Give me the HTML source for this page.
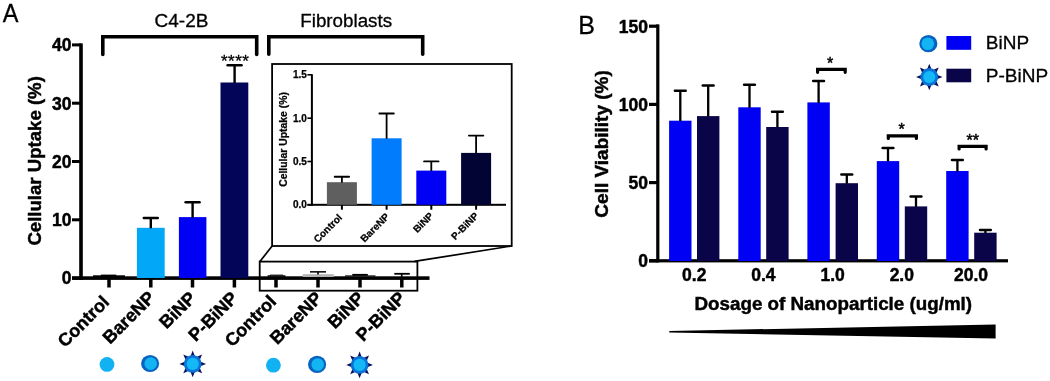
<!DOCTYPE html>
<html><head><meta charset="utf-8"><style>
html,body{margin:0;padding:0;background:#fff;}
body{width:1050px;height:381px;overflow:hidden;}
svg{display:block;will-change:transform;font-family:"Liberation Sans",sans-serif;}
</style></head><body>
<svg width="1050" height="381" viewBox="0 0 1050 381">
<rect width="1050" height="381" fill="#fff"/>
<text transform="translate(2.75,21.6) scale(0.94,1.01)" font-size="25" fill="#000" stroke="#000" stroke-width="0.3">A</text>
<path d="M102.8,54.5 V36.8 H256.7 V54.5" stroke="#000" stroke-width="3.6" fill="none" stroke-linecap="round" stroke-linejoin="miter"/>
<path d="M268.8,54.2 V36.8 H422.7 V54.2" stroke="#000" stroke-width="3.6" fill="none" stroke-linecap="round" stroke-linejoin="miter"/>
<text x="181.50" y="27.40" font-size="19" font-weight="normal" text-anchor="middle" fill="#000" stroke="#000" stroke-width="0.3">C4-2B</text>
<text x="346.20" y="26.90" font-size="18.8" font-weight="normal" text-anchor="middle" fill="#000" stroke="#000" stroke-width="0.3">Fibroblasts</text>
<rect x="79.20" y="43.40" width="3.60" height="236.50" fill="#000"/>
<rect x="72.00" y="43.40" width="9.00" height="3.00" fill="#000"/>
<text x="71.50" y="51.20" font-size="17.5" font-weight="bold" text-anchor="end" fill="#000" stroke="#000" stroke-width="0.45">40</text>
<rect x="72.00" y="101.70" width="9.00" height="3.00" fill="#000"/>
<text x="71.50" y="109.50" font-size="17.5" font-weight="bold" text-anchor="end" fill="#000" stroke="#000" stroke-width="0.45">30</text>
<rect x="72.00" y="160.00" width="9.00" height="3.00" fill="#000"/>
<text x="71.50" y="167.80" font-size="17.5" font-weight="bold" text-anchor="end" fill="#000" stroke="#000" stroke-width="0.45">20</text>
<rect x="72.00" y="218.30" width="9.00" height="3.00" fill="#000"/>
<text x="71.50" y="226.10" font-size="17.5" font-weight="bold" text-anchor="end" fill="#000" stroke="#000" stroke-width="0.45">10</text>
<rect x="72.00" y="276.60" width="9.00" height="3.00" fill="#000"/>
<text x="71.50" y="284.40" font-size="17.5" font-weight="bold" text-anchor="end" fill="#000" stroke="#000" stroke-width="0.45">0</text>
<rect x="72.00" y="276.30" width="357.50" height="3.60" fill="#000"/>
<rect x="136.90" y="227.80" width="27.80" height="50.20" fill="#02a8f7"/>
<rect x="178.90" y="217.10" width="27.50" height="60.90" fill="#0000f5"/>
<rect x="220.50" y="82.50" width="27.80" height="195.50" fill="#020558"/>
<rect x="93.00" y="275.30" width="32.00" height="2.70" fill="#000"/>
<rect x="149.60" y="218.00" width="2.40" height="10.30" fill="#000"/>
<path d="M143.80,218.00 H157.80" stroke="#000" stroke-width="2.4" fill="none" stroke-linecap="round" stroke-linejoin="miter"/>
<rect x="191.40" y="202.30" width="2.40" height="15.30" fill="#000"/>
<path d="M185.60,202.30 H199.60" stroke="#000" stroke-width="2.4" fill="none" stroke-linecap="round" stroke-linejoin="miter"/>
<rect x="233.40" y="65.20" width="2.40" height="17.80" fill="#000"/>
<path d="M227.60,65.20 H241.60" stroke="#000" stroke-width="2.4" fill="none" stroke-linecap="round" stroke-linejoin="miter"/>
<rect x="100.90" y="274.60" width="15.40" height="1.90" fill="#000"/>
<text x="235.20" y="66.80" font-size="17" font-weight="normal" text-anchor="middle" fill="#000" stroke="#000" stroke-width="0.3" letter-spacing="0.5">****</text>
<rect x="107.25" y="278.00" width="3.50" height="9.50" fill="#000"/>
<rect x="149.05" y="278.00" width="3.50" height="9.50" fill="#000"/>
<rect x="190.75" y="278.00" width="3.50" height="9.50" fill="#000"/>
<rect x="232.65" y="278.00" width="3.50" height="9.50" fill="#000"/>
<rect x="274.25" y="278.00" width="3.50" height="9.50" fill="#000"/>
<rect x="316.25" y="278.00" width="3.50" height="9.50" fill="#000"/>
<rect x="358.25" y="278.00" width="3.50" height="9.50" fill="#000"/>
<rect x="400.05" y="278.00" width="3.50" height="9.50" fill="#000"/>
<text transform="translate(41.40,160.90) rotate(-90)" font-size="18.6" font-weight="bold" text-anchor="middle" fill="#000" stroke="#000" stroke-width="0.45">Cellular Uptake (%)</text>
<text transform="translate(110.30,303.10) rotate(-45)" font-size="18" font-weight="bold" text-anchor="end" fill="#000" stroke="#000" stroke-width="0.45">Control</text>
<text transform="translate(156.00,298.80) rotate(-45)" font-size="18" font-weight="bold" text-anchor="end" fill="#000" stroke="#000" stroke-width="0.45">BareNP</text>
<text transform="translate(197.00,299.20) rotate(-45)" font-size="18" font-weight="bold" text-anchor="end" fill="#000" stroke="#000" stroke-width="0.45">BiNP</text>
<text transform="translate(238.80,299.20) rotate(-45)" font-size="18" font-weight="bold" text-anchor="end" fill="#000" stroke="#000" stroke-width="0.45">P-BiNP</text>
<text transform="translate(277.40,302.60) rotate(-45)" font-size="18" font-weight="bold" text-anchor="end" fill="#000" stroke="#000" stroke-width="0.45">Control</text>
<text transform="translate(323.20,299.30) rotate(-45)" font-size="18" font-weight="bold" text-anchor="end" fill="#000" stroke="#000" stroke-width="0.45">BareNP</text>
<text transform="translate(365.30,299.20) rotate(-45)" font-size="18" font-weight="bold" text-anchor="end" fill="#000" stroke="#000" stroke-width="0.45">BiNP</text>
<text transform="translate(406.50,299.20) rotate(-45)" font-size="18" font-weight="bold" text-anchor="end" fill="#000" stroke="#000" stroke-width="0.45">P-BiNP</text>
<rect x="267.60" y="275.20" width="17.90" height="1.80" fill="#111"/>
<rect x="270.00" y="274.60" width="13.00" height="1.00" fill="#111"/>
<rect x="302.80" y="274.20" width="31.00" height="2.80" fill="#b4b4b4"/>
<rect x="310.00" y="271.10" width="16.00" height="1.50" fill="#000"/>
<rect x="317.20" y="272.00" width="1.60" height="2.50" fill="#000"/>
<rect x="345.00" y="275.30" width="30.40" height="1.70" fill="#222"/>
<rect x="352.30" y="273.90" width="15.50" height="1.90" fill="#000"/>
<rect x="394.30" y="272.90" width="15.50" height="1.80" fill="#000"/>
<rect x="400.90" y="273.50" width="1.60" height="3.50" fill="#000"/>
<rect x="259.7" y="261.6" width="157.7" height="29.1" fill="none" stroke="#000" stroke-width="1.8"/>
<path d="M272.1,246 L259.9,261.6" stroke="#000" stroke-width="1.7" fill="none" stroke-linecap="butt" stroke-linejoin="miter"/>
<path d="M511.6,246 L414.5,261.4" stroke="#000" stroke-width="1.7" fill="none" stroke-linecap="butt" stroke-linejoin="miter"/>
<rect x="272.1" y="64" width="239.6" height="182" fill="#fff" stroke="#000" stroke-width="1.8"/>
<rect x="310.90" y="74.20" width="2.00" height="131.60" fill="#000"/>
<rect x="307.40" y="74.00" width="4.60" height="1.60" fill="#000"/>
<text x="306.80" y="78.30" font-size="10" font-weight="bold" text-anchor="end" fill="#000" stroke="#000" stroke-width="0.25">1.5</text>
<rect x="307.40" y="117.40" width="4.60" height="1.60" fill="#000"/>
<text x="306.80" y="121.70" font-size="10" font-weight="bold" text-anchor="end" fill="#000" stroke="#000" stroke-width="0.25">1.0</text>
<rect x="307.40" y="160.70" width="4.60" height="1.60" fill="#000"/>
<text x="306.80" y="165.00" font-size="10" font-weight="bold" text-anchor="end" fill="#000" stroke="#000" stroke-width="0.25">0.5</text>
<rect x="307.40" y="204.00" width="4.60" height="1.60" fill="#000"/>
<text x="306.80" y="208.30" font-size="10" font-weight="bold" text-anchor="end" fill="#000" stroke="#000" stroke-width="0.25">0.0</text>
<rect x="307.40" y="203.80" width="198.60" height="2.00" fill="#000"/>
<rect x="326.90" y="182.20" width="30.00" height="22.60" fill="#5f5f5f"/>
<rect x="341.00" y="176.80" width="1.80" height="5.90" fill="#000"/>
<path d="M334.70,176.80 H349.10" stroke="#000" stroke-width="1.9" fill="none" stroke-linecap="round" stroke-linejoin="miter"/>
<rect x="340.90" y="205.00" width="2.00" height="4.70" fill="#000"/>
<rect x="371.60" y="138.30" width="30.00" height="66.50" fill="#007cfc"/>
<rect x="385.70" y="113.50" width="1.80" height="25.30" fill="#000"/>
<path d="M379.40,113.50 H393.80" stroke="#000" stroke-width="1.9" fill="none" stroke-linecap="round" stroke-linejoin="miter"/>
<rect x="385.60" y="205.00" width="2.00" height="4.70" fill="#000"/>
<rect x="416.30" y="170.60" width="30.00" height="34.20" fill="#0000f5"/>
<rect x="430.40" y="161.40" width="1.80" height="9.70" fill="#000"/>
<path d="M424.10,161.40 H438.50" stroke="#000" stroke-width="1.9" fill="none" stroke-linecap="round" stroke-linejoin="miter"/>
<rect x="430.30" y="205.00" width="2.00" height="4.70" fill="#000"/>
<rect x="461.10" y="152.90" width="30.00" height="51.90" fill="#020433"/>
<rect x="475.20" y="135.60" width="1.80" height="17.80" fill="#000"/>
<path d="M468.90,135.60 H483.30" stroke="#000" stroke-width="1.9" fill="none" stroke-linecap="round" stroke-linejoin="miter"/>
<rect x="475.10" y="205.00" width="2.00" height="4.70" fill="#000"/>
<text transform="translate(342.80,218.20) rotate(-45)" font-size="10" font-weight="bold" text-anchor="end" fill="#000" stroke="#000" stroke-width="0.25">Control</text>
<text transform="translate(390.00,217.20) rotate(-45)" font-size="10" font-weight="bold" text-anchor="end" fill="#000" stroke="#000" stroke-width="0.25">BareNP</text>
<text transform="translate(434.10,216.40) rotate(-45)" font-size="10" font-weight="bold" text-anchor="end" fill="#000" stroke="#000" stroke-width="0.25">BiNP</text>
<text transform="translate(479.20,216.40) rotate(-45)" font-size="10" font-weight="bold" text-anchor="end" fill="#000" stroke="#000" stroke-width="0.25">P-BiNP</text>
<text transform="translate(286.60,139.50) rotate(-90)" font-size="10.4" font-weight="bold" text-anchor="middle" fill="#000" stroke="#000" stroke-width="0.25">Cellular Uptake (%)</text>
<circle cx="107" cy="364.4" r="7.4" fill="#12b2f2"/>
<ellipse cx="150.1" cy="363.5" rx="9.05" ry="8.6" fill="#0862c0"/>
<circle cx="150.7" cy="363.6" r="6.3" fill="#12b4f2"/>
<polygon points="192.70,350.60 195.00,356.40 190.40,356.40" fill="#0a0f5a"/>
<polygon points="202.10,354.50 199.63,360.22 196.38,356.97" fill="#0a0f5a"/>
<polygon points="206.00,363.90 200.20,366.20 200.20,361.60" fill="#0a0f5a"/>
<polygon points="202.10,373.30 196.38,370.83 199.63,367.58" fill="#0a0f5a"/>
<polygon points="192.70,377.20 190.40,371.40 195.00,371.40" fill="#0a0f5a"/>
<polygon points="183.30,373.30 185.77,367.58 189.02,370.83" fill="#0a0f5a"/>
<polygon points="179.40,363.90 185.20,361.60 185.20,366.20" fill="#0a0f5a"/>
<polygon points="183.30,354.50 189.02,356.97 185.77,360.22" fill="#0a0f5a"/>
<circle cx="192.7" cy="363.9" r="8.9" fill="#0a74d6"/>
<circle cx="192.7" cy="363.9" r="6.1" fill="#14b8f6"/>
<circle cx="273.4" cy="365.2" r="7.4" fill="#12b2f2"/>
<ellipse cx="317.1" cy="364.4" rx="9.05" ry="8.6" fill="#0862c0"/>
<circle cx="317.70000000000005" cy="364.5" r="6.3" fill="#12b4f2"/>
<polygon points="359.60,351.60 361.90,357.40 357.30,357.40" fill="#0a0f5a"/>
<polygon points="369.00,355.50 366.53,361.22 363.28,357.97" fill="#0a0f5a"/>
<polygon points="372.90,364.90 367.10,367.20 367.10,362.60" fill="#0a0f5a"/>
<polygon points="369.00,374.30 363.28,371.83 366.53,368.58" fill="#0a0f5a"/>
<polygon points="359.60,378.20 357.30,372.40 361.90,372.40" fill="#0a0f5a"/>
<polygon points="350.20,374.30 352.67,368.58 355.92,371.83" fill="#0a0f5a"/>
<polygon points="346.30,364.90 352.10,362.60 352.10,367.20" fill="#0a0f5a"/>
<polygon points="350.20,355.50 355.92,357.97 352.67,361.22" fill="#0a0f5a"/>
<circle cx="359.6" cy="364.9" r="8.9" fill="#0a74d6"/>
<circle cx="359.6" cy="364.9" r="6.1" fill="#14b8f6"/>
<text x="578.20" y="34.00" font-size="25" font-weight="normal" text-anchor="start" fill="#000" stroke="#000" stroke-width="0.3">B</text>
<rect x="656.20" y="24.40" width="3.20" height="238.00" fill="#000"/>
<rect x="649.00" y="24.60" width="9.00" height="3.20" fill="#000"/>
<text x="648.00" y="32.60" font-size="17.5" font-weight="bold" text-anchor="end" fill="#000" stroke="#000" stroke-width="0.45">150</text>
<rect x="649.00" y="102.80" width="9.00" height="3.20" fill="#000"/>
<text x="648.00" y="110.80" font-size="17.5" font-weight="bold" text-anchor="end" fill="#000" stroke="#000" stroke-width="0.45">100</text>
<rect x="649.00" y="181.00" width="9.00" height="3.20" fill="#000"/>
<text x="648.00" y="189.00" font-size="17.5" font-weight="bold" text-anchor="end" fill="#000" stroke="#000" stroke-width="0.45">50</text>
<rect x="649.00" y="259.20" width="9.00" height="3.20" fill="#000"/>
<text x="648.00" y="267.20" font-size="17.5" font-weight="bold" text-anchor="end" fill="#000" stroke="#000" stroke-width="0.45">0</text>
<rect x="649.00" y="259.20" width="359.00" height="3.20" fill="#000"/>
<rect x="669.10" y="120.70" width="22.40" height="140.30" fill="#0000f5"/>
<rect x="679.15" y="90.70" width="2.30" height="30.50" fill="#000"/>
<path d="M674.90,90.70 H685.70" stroke="#000" stroke-width="2.5" fill="none" stroke-linecap="round" stroke-linejoin="miter"/>
<rect x="697.00" y="116.10" width="22.40" height="144.90" fill="#0a0448"/>
<rect x="707.05" y="85.60" width="2.30" height="31.00" fill="#000"/>
<path d="M702.80,85.60 H713.60" stroke="#000" stroke-width="2.5" fill="none" stroke-linecap="round" stroke-linejoin="miter"/>
<rect x="738.30" y="107.30" width="22.40" height="153.70" fill="#0000f5"/>
<rect x="748.35" y="84.80" width="2.30" height="23.00" fill="#000"/>
<path d="M744.10,84.80 H754.90" stroke="#000" stroke-width="2.5" fill="none" stroke-linecap="round" stroke-linejoin="miter"/>
<rect x="766.20" y="127.00" width="22.40" height="134.00" fill="#0a0448"/>
<rect x="776.25" y="111.70" width="2.30" height="15.80" fill="#000"/>
<path d="M772.00,111.70 H782.80" stroke="#000" stroke-width="2.5" fill="none" stroke-linecap="round" stroke-linejoin="miter"/>
<rect x="807.40" y="102.40" width="22.40" height="158.60" fill="#0000f5"/>
<rect x="817.45" y="81.00" width="2.30" height="21.90" fill="#000"/>
<path d="M813.20,81.00 H824.00" stroke="#000" stroke-width="2.5" fill="none" stroke-linecap="round" stroke-linejoin="miter"/>
<rect x="835.60" y="183.20" width="22.40" height="77.80" fill="#0a0448"/>
<rect x="845.65" y="174.60" width="2.30" height="9.10" fill="#000"/>
<path d="M841.40,174.60 H852.20" stroke="#000" stroke-width="2.5" fill="none" stroke-linecap="round" stroke-linejoin="miter"/>
<rect x="876.80" y="161.10" width="22.40" height="99.90" fill="#0000f5"/>
<rect x="886.85" y="148.00" width="2.30" height="13.60" fill="#000"/>
<path d="M882.60,148.00 H893.40" stroke="#000" stroke-width="2.5" fill="none" stroke-linecap="round" stroke-linejoin="miter"/>
<rect x="904.80" y="206.40" width="22.40" height="54.60" fill="#0a0448"/>
<rect x="914.85" y="196.50" width="2.30" height="10.40" fill="#000"/>
<path d="M910.60,196.50 H921.40" stroke="#000" stroke-width="2.5" fill="none" stroke-linecap="round" stroke-linejoin="miter"/>
<rect x="946.20" y="171.00" width="22.40" height="90.00" fill="#0000f5"/>
<rect x="956.25" y="160.00" width="2.30" height="11.50" fill="#000"/>
<path d="M952.00,160.00 H962.80" stroke="#000" stroke-width="2.5" fill="none" stroke-linecap="round" stroke-linejoin="miter"/>
<rect x="974.20" y="232.70" width="22.40" height="28.30" fill="#0a0448"/>
<rect x="984.25" y="230.10" width="2.30" height="3.10" fill="#000"/>
<path d="M980.00,230.10 H990.80" stroke="#000" stroke-width="2.5" fill="none" stroke-linecap="round" stroke-linejoin="miter"/>
<text x="694.20" y="281.00" font-size="17.5" font-weight="bold" text-anchor="middle" fill="#000" stroke="#000" stroke-width="0.45">0.2</text>
<text x="763.40" y="281.00" font-size="17.5" font-weight="bold" text-anchor="middle" fill="#000" stroke="#000" stroke-width="0.45">0.4</text>
<text x="832.60" y="281.00" font-size="17.5" font-weight="bold" text-anchor="middle" fill="#000" stroke="#000" stroke-width="0.45">1.0</text>
<text x="901.80" y="281.00" font-size="17.5" font-weight="bold" text-anchor="middle" fill="#000" stroke="#000" stroke-width="0.45">2.0</text>
<text x="971.00" y="281.00" font-size="17.5" font-weight="bold" text-anchor="middle" fill="#000" stroke="#000" stroke-width="0.45">20.0</text>
<path d="M817.6,72.3 V69.4 H845.2 V72.3" stroke="#000" stroke-width="3.2" fill="none" stroke-linecap="round" stroke-linejoin="miter"/>
<text x="830.10" y="68.60" font-size="16" font-weight="normal" text-anchor="middle" fill="#000" stroke="#000" stroke-width="0.5">*</text>
<path d="M888.3,138.5 V135.8 H916.4 V138.5" stroke="#000" stroke-width="3.2" fill="none" stroke-linecap="round" stroke-linejoin="miter"/>
<text x="901.70" y="134.50" font-size="16" font-weight="normal" text-anchor="middle" fill="#000" stroke="#000" stroke-width="0.5">*</text>
<path d="M959.1,149 V146.4 H986.1 V149" stroke="#000" stroke-width="3.2" fill="none" stroke-linecap="round" stroke-linejoin="miter"/>
<text x="972.80" y="146.30" font-size="16" font-weight="normal" text-anchor="middle" fill="#000" stroke="#000" stroke-width="0.5">**</text>
<text transform="translate(608.20,143.90) rotate(-90)" font-size="19" font-weight="bold" text-anchor="middle" fill="#000" stroke="#000" stroke-width="0.45">Cell Viability (%)</text>
<text x="833.30" y="309.50" font-size="18.8" font-weight="bold" text-anchor="middle" fill="#000" stroke="#000" stroke-width="0.45">Dosage of Nanoparticle (ug/ml)</text>
<polygon points="669.3,331 995.6,324.5 995.6,338.6 669.3,332.4" fill="#000"/>
<ellipse cx="928.35" cy="43.65" rx="9.05" ry="8.6" fill="#0862c0"/>
<circle cx="927.75" cy="43.75" r="6.3" fill="#12b4f2"/>
<rect x="946.40" y="36.00" width="24.80" height="13.80" fill="#0000f5"/>
<text x="985.80" y="49.00" font-size="19" font-weight="normal" text-anchor="start" fill="#000" stroke="#000" stroke-width="0.3">BiNP</text>
<polygon points="929.30,63.70 931.60,69.50 927.00,69.50" fill="#0a0f5a"/>
<polygon points="938.70,67.60 936.23,73.32 932.98,70.07" fill="#0a0f5a"/>
<polygon points="942.60,77.00 936.80,79.30 936.80,74.70" fill="#0a0f5a"/>
<polygon points="938.70,86.40 932.98,83.93 936.23,80.68" fill="#0a0f5a"/>
<polygon points="929.30,90.30 927.00,84.50 931.60,84.50" fill="#0a0f5a"/>
<polygon points="919.90,86.40 922.37,80.68 925.62,83.93" fill="#0a0f5a"/>
<polygon points="916.00,77.00 921.80,74.70 921.80,79.30" fill="#0a0f5a"/>
<polygon points="919.90,67.60 925.62,70.07 922.37,73.32" fill="#0a0f5a"/>
<circle cx="929.3" cy="77" r="8.9" fill="#0a74d6"/>
<circle cx="929.3" cy="77" r="6.1" fill="#14b8f6"/>
<rect x="946.40" y="68.70" width="24.80" height="13.60" fill="#0a0448"/>
<text x="985.80" y="81.50" font-size="19" font-weight="normal" text-anchor="start" fill="#000" stroke="#000" stroke-width="0.3">P-BiNP</text>
</svg>
</body></html>
